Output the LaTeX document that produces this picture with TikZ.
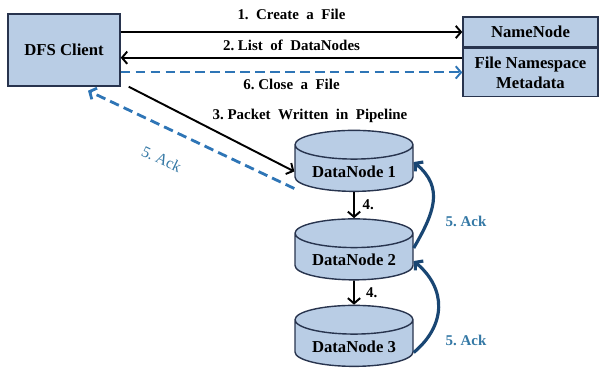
\documentclass[tikz,border=0pt]{standalone}
\usepackage{fontspec}
\setmainfont{Liberation Serif}
\usetikzlibrary{arrows.meta, shapes.geometric, positioning}
\definecolor{boxfill}{RGB}{185,205,229}
\definecolor{boxline}{RGB}{40,52,78}
\definecolor{dashblue}{RGB}{46,117,182}
\definecolor{ackblue}{RGB}{25,70,115}
\definecolor{acktext}{RGB}{52,120,165}
\tikzset{
	clientbox/.style = {rectangle, minimum width = 2.24cm, minimum height = 1.44cm, text centered, draw = boxline, fill = boxfill, thick, font = \fontsize{9.5}{11}\selectfont\bfseries},
	namebox/.style = {rectangle, minimum width = 2.7cm, text centered, align = center, draw = boxline, fill = boxfill, thick, inner sep = 0pt, font = \fontsize{9.5}{11.5}\selectfont\bfseries},
	datanode/.style = {cylinder, shape border rotate = 90, aspect = 0.3, minimum width = 2.36cm, minimum height = 0.96cm, draw = boxline, thick, cylinder uses custom fill, cylinder body fill = boxfill, cylinder end fill = boxfill, font = \fontsize{9.5}{11}\selectfont\bfseries},
	txt/.style = {font = \fontsize{8.5}{10}\selectfont\bfseries},
	acktxt/.style = {txt, text = acktext},
	arrow/.style = {-{Straight Barb[length = 3pt, width = 7pt]}, draw = black, line width = 1.1pt},
	dasharrow/.style = {arrow, draw = dashblue, dash pattern = on 5.5pt off 3pt},
	ackarrow/.style = {arrow, draw = ackblue, line width = 1.8pt}
}
\begin{document}
\begin{tikzpicture}
	\useasboundingbox (0,0) rectangle (11.98,-7.5);
	
	%% nodes
	\node (client) [clientbox] at (1.28,-1.0) {DFS Client};
	\node (namenode) [namebox, minimum height = 0.6cm] at (10.61,-0.64) {NameNode};
	\node (meta) [namebox, minimum height = 0.96cm, below = 0cm of namenode] {File Namespace\\Metadata};
	
	\node (dn1) [datanode] at (7.08,-3.43) {DataNode 1};
	\node (dn2) [datanode] at (7.08,-5.2) {DataNode 2};
	\node (dn3) [datanode] at (7.08,-6.93) {DataNode 3};
	
	%% helper points
	\coordinate (listin) at ([yshift = -0.2cm]meta.north west);
	\coordinate (ackin) at ([xshift = 0.48cm, yshift = -0.08cm]client.south);
	
	%% arrows to the namenode
	\draw [arrow] (client.east |- namenode) -- node [txt, above = 3pt] {1.~~Create~~a~~File} (namenode.west);
	\draw [arrow] (listin) -- node [txt, above = 0pt] {2.~List~~of~~DataNodes} (client.east |- listin);
	\draw [dasharrow] (client.east |- meta) -- node [txt, below = 0pt] {6.~Close~~a~~File} (meta.west);
	
	%% pipeline
	\node (packet) [txt] at (6.2,-2.32) {3.~Packet~~Written~~in~~Pipeline};
	\draw [arrow] ([xshift = 0.16cm]client.south east) -- (dn1.west);
	\draw [dasharrow, line width = 1.6pt] ([yshift = -0.34cm]dn1.west) -- node [pos = 0.58, sloped, below = 10pt, font = \fontsize{9}{10}\selectfont, text = acktext] {5.~Ack} (ackin);
	
	\draw [arrow] (dn1.south) -- node [txt, right = 1pt] {4.} (dn2.north);
	\draw [arrow] (dn2.south) -- node [txt, right = 3pt] {4.} (dn3.north);
	
	%% acks
	\draw [ackarrow] ([yshift = 0.24cm]dn2.east) to [out = 60, in = -40, looseness = 1.2] ([yshift = 0.19cm]dn1.east);
	\draw [ackarrow] ([yshift = -0.12cm]dn3.east) to [out = 40, in = -40, looseness = 1.2] ([yshift = -0.02cm]dn2.east);
	\node (ack1) [acktxt] at (9.32,-4.42) {5.~Ack};
	\node (ack2) [acktxt] at (9.32,-6.8) {5.~Ack};
\end{tikzpicture}
\end{document}
